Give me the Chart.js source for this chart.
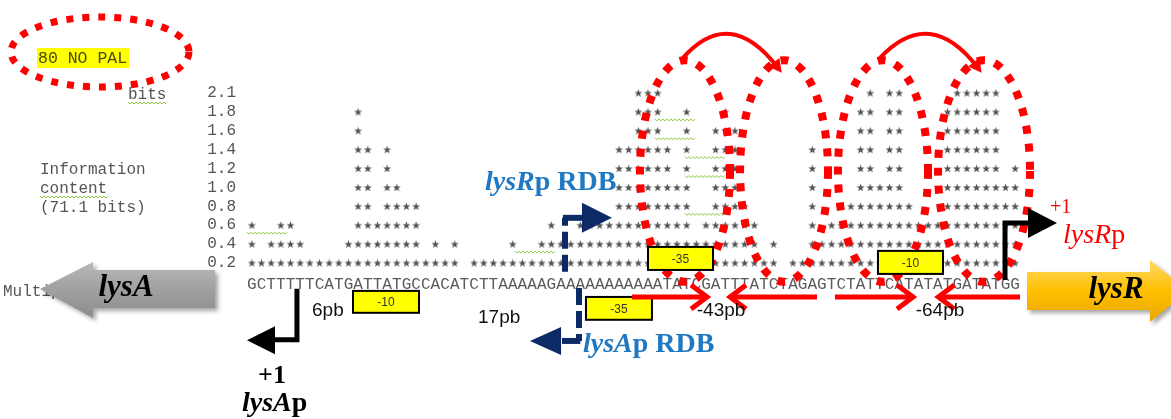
<!DOCTYPE html>
<html><head><meta charset="utf-8">
<script src="https://cdn.jsdelivr.net/npm/chart.js@4/dist/chart.umd.min.js"></script>
<style>html,body{margin:0;padding:0;background:#fff;}#c{display:block;}</style>
</head><body>
<canvas id="c" width="1171" height="419"></canvas>
<script>
// ---- data ----
const SEQUENCE = "GCTTTTTCATGATTATGCCACATCTTAAAAAGAAAAAAAAAAATATCGATTTATCTAGAGTCTATTCATATATGATATGG".split('');
const ROW_LABELS = ['0.2','0.4','0.6','0.8','1.0','1.2','1.4','1.6','1.8','2.1'];
const STAR_COUNTS = [
  3,1,2,3,3,2,1,1,1,1,
  2,9,7,3,7,5,4,4,1,2,
  1,2,0,1,1,1,1,2,1,1,
  2,3,2,2,3,3,3,3,7,7,
  10,10,10,7,5,9,2,3,8,9,
  8,4,3,1,2,0,1,1,7,2,
  3,3,4,9,10,5,10,10,4,3,
  3,3,9,10,10,10,10,10,5,6
];
const TITLE = '80 NO PAL';
const INFO_LINES = ['Information','content','(71.1 bits)'];

// star glyph
const starImg = (() => {
  const c = document.createElement('canvas'); c.width = 9; c.height = 9;
  const g = c.getContext('2d'); g.fillStyle = '#505050'; g.beginPath();
  for (let k = 0; k < 10; k++) {
    const a = -Math.PI / 2 + k * Math.PI / 5, rr = (k % 2) ? 1.7 : 4.2;
    g.lineTo(4.5 + rr * Math.cos(a), 4.8 + rr * Math.sin(a));
  }
  g.closePath(); g.fill(); return c;
})();

const starPoints = [];
STAR_COUNTS.forEach((h, i) => { for (let r = 1; r <= h; r++) starPoints.push({x: i, y: r}); });

const MONO = "'Liberation Mono', 'DejaVu Sans Mono', monospace";
const SERIF = "'Liberation Serif', 'DejaVu Serif', serif";
const SANS = "'Liberation Sans', Arial, sans-serif";

function rich(ctx, x, y, parts, color) {
  ctx.fillStyle = color; ctx.textAlign = 'left'; ctx.textBaseline = 'alphabetic';
  for (const [t, f] of parts) { ctx.font = f; ctx.fillText(t, x, y); x += ctx.measureText(t).width; }
}
function squiggle(ctx, x1, x2, y) {
  ctx.save(); ctx.strokeStyle = '#8cc63f'; ctx.lineWidth = 1; ctx.beginPath();
  let k = 0; for (let x = x1; x <= x2; x += 2, k++) ctx.lineTo(x, y + (k % 2 ? 1 : -1));
  ctx.stroke(); ctx.restore();
}
function tri(ctx, baseX, tipX, y, half, color) {
  ctx.fillStyle = color; ctx.beginPath();
  ctx.moveTo(baseX, y - half); ctx.lineTo(tipX, y); ctx.lineTo(baseX, y + half); ctx.closePath(); ctx.fill();
}

const diagram = {
  id: 'diagram',
  afterDraw(chart) {
    const ctx = chart.ctx, xs = chart.scales.x, ys = chart.scales.y;
    const X = v => xs.getPixelForValue(v), Y = v => ys.getPixelForValue(v);
    ctx.save();

    // left texts
    ctx.fillStyle = '#555'; ctx.font = '16px ' + MONO; ctx.textBaseline = 'middle'; ctx.textAlign = 'left';
    ctx.fillText('bits', 128, Y(10) + 2);
    INFO_LINES.forEach((t, k) => ctx.fillText(t, 40, Y(6 - k) + 1));
    ctx.fillText('Multiple alignment', 3, Y(0) + 10);

    // title with highlight and dotted ellipse
    ctx.fillStyle = '#ffff00'; ctx.fillRect(37, 48, 92, 20);
    ctx.fillStyle = '#4a4a10'; ctx.font = '16.5px ' + MONO; ctx.fillText(TITLE, 38, 58.5);
    ctx.strokeStyle = '#ff0000'; ctx.lineWidth = 7; ctx.setLineDash([7, 9]);
    ctx.beginPath(); ctx.ellipse(100, 52, 89, 35, 0, 0, Math.PI * 2); ctx.stroke();
    ctx.setLineDash([]);

    // spell-check squiggles
    squiggle(ctx, 128, 166, 103); squiggle(ctx, 40, 108, 197);
    squiggle(ctx, 247, 287, Y(3) + 8); squiggle(ctx, 515, 555, Y(2) + 8);
    squiggle(ctx, 655, 695, Y(9) + 8); squiggle(ctx, 655, 695, Y(8) + 8);
    squiggle(ctx, 685, 725, Y(7) + 8); squiggle(ctx, 685, 725, Y(6) + 8);
    squiggle(ctx, 685, 725, Y(4) + 8);

    // dotted loops
    ctx.strokeStyle = '#ff0000'; ctx.lineWidth = 8; ctx.setLineDash([8, 10]);
    const cyL = Y(5.87), ryL = Y(0) - Y(5.87);
    [[44.83, 4.66], [55.08, 4.55], [65.32, 4.66], [75.78, 4.76]].forEach(l => {
      const cx = X(l[0]), rx = X(l[0] + l[1]) - cx;
      ctx.beginPath(); ctx.ellipse(cx, cyL, rx, ryL, 0, 0, Math.PI * 2); ctx.stroke();
    });
    ctx.setLineDash([]);

    // yellow boxes (on top of loops)
    [[41.0, 47.73, 1.85, 0.63, '-35'], [64.8, 71.53, 1.64, 0.42, '-10'],
     [10.47, 17.3, -0.48, -1.64, '-10'], [34.58, 41.41, -0.8, -2.01, '-35']].forEach(b => {
      const x1 = X(b[0]), x2 = X(b[1]), y1 = Y(b[2]), y2 = Y(b[3]);
      ctx.fillStyle = '#ffff00'; ctx.fillRect(x1, y1, x2 - x1, y2 - y1);
      ctx.strokeStyle = '#000'; ctx.lineWidth = 2; ctx.strokeRect(x1, y1, x2 - x1, y2 - y1);
      ctx.fillStyle = '#333'; ctx.font = '12px ' + SANS; ctx.textAlign = 'center'; ctx.textBaseline = 'middle';
      ctx.fillText(b[4], (x1 + x2) / 2, (y1 + y2) / 2 + 1);
    });

    // solid arcs with arrowheads
    [[44.62, 49.49, 54.46], [65.01, 70.19, 75.15]].forEach(a => {
      const sx = X(a[0]), sy = Y(11.86), cx = X(a[1]), cy = Y(14.66), ex = X(a[2]), ey = Y(11.33);
      ctx.strokeStyle = '#ff0000'; ctx.lineWidth = 4;
      ctx.beginPath(); ctx.moveTo(sx, sy); ctx.quadraticCurveTo(cx, cy, ex, ey); ctx.stroke();
      const ang = Math.atan2(ey - cy, ex - cx), L = 13, W = 7;
      const tx = ex + Math.cos(ang) * 6, ty = ey + Math.sin(ang) * 6;
      ctx.fillStyle = '#ff0000'; ctx.beginPath();
      ctx.moveTo(tx, ty);
      ctx.lineTo(tx - L * Math.cos(ang) + W * Math.sin(ang), ty - L * Math.sin(ang) - W * Math.cos(ang));
      ctx.lineTo(tx - L * Math.cos(ang) - W * Math.sin(ang), ty - L * Math.sin(ang) + W * Math.cos(ang));
      ctx.closePath(); ctx.fill();
    });

    // red horizontal arrows
    const ry = Y(-0.8);
    ctx.strokeStyle = '#ff0000'; ctx.lineWidth = 5; ctx.lineJoin = 'miter';
    [[39.34, 47.11], [58.49, 49.49], [60.35, 68.43], [79.5, 71.05]].forEach(a => {
      const x1 = X(a[0]), x2 = X(a[1]), d = Math.sign(x2 - x1);
      ctx.beginPath(); ctx.moveTo(x1, ry); ctx.lineTo(x2, ry); ctx.stroke();
      ctx.beginPath(); ctx.moveTo(x2 - d * 16, ry - 12); ctx.lineTo(x2, ry); ctx.lineTo(x2 - d * 16, ry + 12); ctx.stroke();
    });

    // distance labels
    ctx.fillStyle = '#111'; ctx.font = '19px ' + SANS; ctx.textBaseline = 'alphabetic';
    ctx.textAlign = 'left'; ctx.fillText('6pb', X(6.23), Y(-1.8)); ctx.fillText('17pb', X(23.41), Y(-2.17));
    ctx.textAlign = 'center'; ctx.fillText('-43pb', X(48.56), Y(-1.8)); ctx.fillText('-64pb', X(71.22), Y(-1.8));

    // black +1 arrows
    ctx.strokeStyle = '#000'; ctx.lineWidth = 5; ctx.lineJoin = 'miter';
    ctx.beginPath(); ctx.moveTo(X(4.67), Y(-0.37)); ctx.lineTo(X(4.67), Y(-3.07)); ctx.lineTo(X(2.09), Y(-3.07)); ctx.stroke();
    tri(ctx, X(2.4), X(-0.5), Y(-3.1), 14, '#000');
    ctx.beginPath(); ctx.moveTo(X(77.95), Y(0.1)); ctx.lineTo(X(77.95), Y(3.12)); ctx.lineTo(X(80.53), Y(3.12)); ctx.stroke();
    tri(ctx, X(80.33), X(83.33), Y(3.12), 15, '#000');

    ctx.textAlign = 'center'; ctx.fillStyle = '#000'; ctx.font = 'bold 26px ' + SERIF;
    ctx.fillText('+1', X(2.09), Y(-5.35));
    rich(ctx, X(-1.02), Y(-6.83), [['lysA', 'italic bold 28px ' + SERIF], ['p', 'bold 28px ' + SERIF]], '#000');
    ctx.font = '20px ' + SERIF; ctx.fillStyle = '#ff0000'; ctx.textAlign = 'left';
    ctx.fillText('+1', X(82.6), Y(3.65));
    rich(ctx, X(83.95), Y(2.06), [['lysR', 'italic 28px ' + SERIF], ['p', '28px ' + SERIF]], '#ff0000');

    // blue dashed arrows (RDB)
    const NAVY = '#0b2a66';
    ctx.strokeStyle = NAVY; ctx.lineWidth = 6; ctx.setLineDash([17, 6]);
    ctx.beginPath(); ctx.moveTo(X(32.41), Y(0.53)); ctx.lineTo(X(32.41), Y(3.39)); ctx.stroke();
    ctx.beginPath(); ctx.moveTo(X(33.86), Y(-0.32)); ctx.lineTo(X(33.86), Y(-3.13)); ctx.stroke();
    ctx.setLineDash([]);
    ctx.beginPath(); ctx.moveTo(X(32.2), Y(3.39)); ctx.lineTo(X(34.48), Y(3.39)); ctx.stroke();
    ctx.beginPath(); ctx.moveTo(X(34.0), Y(-3.13)); ctx.lineTo(X(32.1), Y(-3.13)); ctx.stroke();
    tri(ctx, X(34.17), X(37.27), Y(3.39), 15, NAVY);
    tri(ctx, X(32.0), X(28.79), Y(-3.13), 14, NAVY);
    const BLUE = '#1f78c1';
    rich(ctx, X(24.13), Y(4.87), [['lysR', 'italic bold 28px ' + SERIF], ['p RDB', 'bold 28px ' + SERIF]], BLUE);
    rich(ctx, X(34.27), Y(-3.71), [['lysA', 'italic bold 28px ' + SERIF], ['p RDB', 'bold 28px ' + SERIF]], BLUE);

    // gene arrows
    function block(pts, stops, label, lx, ly) {
      ctx.save();
      const ysOnly = pts.map(p => p[1]);
      const g = ctx.createLinearGradient(0, Math.min(...ysOnly), 0, Math.max(...ysOnly));
      stops.forEach((c, k) => g.addColorStop(k / (stops.length - 1), c));
      ctx.shadowColor = 'rgba(0,0,0,0.35)'; ctx.shadowOffsetX = 3; ctx.shadowOffsetY = 3; ctx.shadowBlur = 4;
      ctx.fillStyle = g; ctx.beginPath(); pts.forEach((p, k) => k ? ctx.lineTo(p[0], p[1]) : ctx.moveTo(p[0], p[1]));
      ctx.closePath(); ctx.fill(); ctx.restore();
      ctx.fillStyle = '#000'; ctx.font = 'italic bold 31px ' + SERIF; ctx.textAlign = 'center'; ctx.textBaseline = 'middle';
      ctx.fillText(label, lx, ly);
    }
    block([[40, 289], [93, 262], [93, 270], [215, 270], [215, 308], [93, 308], [93, 318]],
      ['#b8b8b8', '#a0a0a0', '#8c8c8c'], 'lysA', 126, 288);
    block([[1027, 272], [1150, 272], [1150, 260], [1188, 291], [1150, 322], [1150, 310], [1027, 310]],
      ['#ffd966', '#ffc000', '#e8a600'], 'lysR', 1116, 290);

    ctx.restore();
  }
};

new Chart(document.getElementById('c'), {
  type: 'scatter',
  data: { datasets: [{ data: starPoints, pointStyle: starImg, pointRadius: 4, showLine: false }] },
  options: {
    responsive: false, animation: false, devicePixelRatio: 1, events: [],
    layout: { padding: { left: 0, right: 151, top: 83.6, bottom: 126.6 } },
    plugins: { legend: { display: false }, tooltip: { enabled: false } },
    scales: {
      x: {
        type: 'linear', min: -0.5, max: SEQUENCE.length - 0.5,
        grid: { display: false, drawTicks: false }, border: { display: false },
        afterBuildTicks(s) { s.ticks = SEQUENCE.map((_, i) => ({ value: i })); },
        afterFit(s) { s.height = 20; },
        ticks: { autoSkip: false, maxRotation: 0, minRotation: 0, padding: 3, color: '#595959',
          font: { family: MONO, size: 16 }, callback: v => SEQUENCE[v] }
      },
      y: {
        type: 'linear', min: 0.5, max: 10.5,
        grid: { display: false, drawTicks: false }, border: { display: false },
        afterBuildTicks(s) { s.ticks = ROW_LABELS.map((_, k) => ({ value: k + 1 })); },
        afterFit(s) { s.width = 247; },
        ticks: { autoSkip: false, padding: 11, color: '#555', font: { family: MONO, size: 16 }, callback: v => ROW_LABELS[v - 1] }
      }
    }
  },
  plugins: [diagram]
});
</script>
</body></html>
